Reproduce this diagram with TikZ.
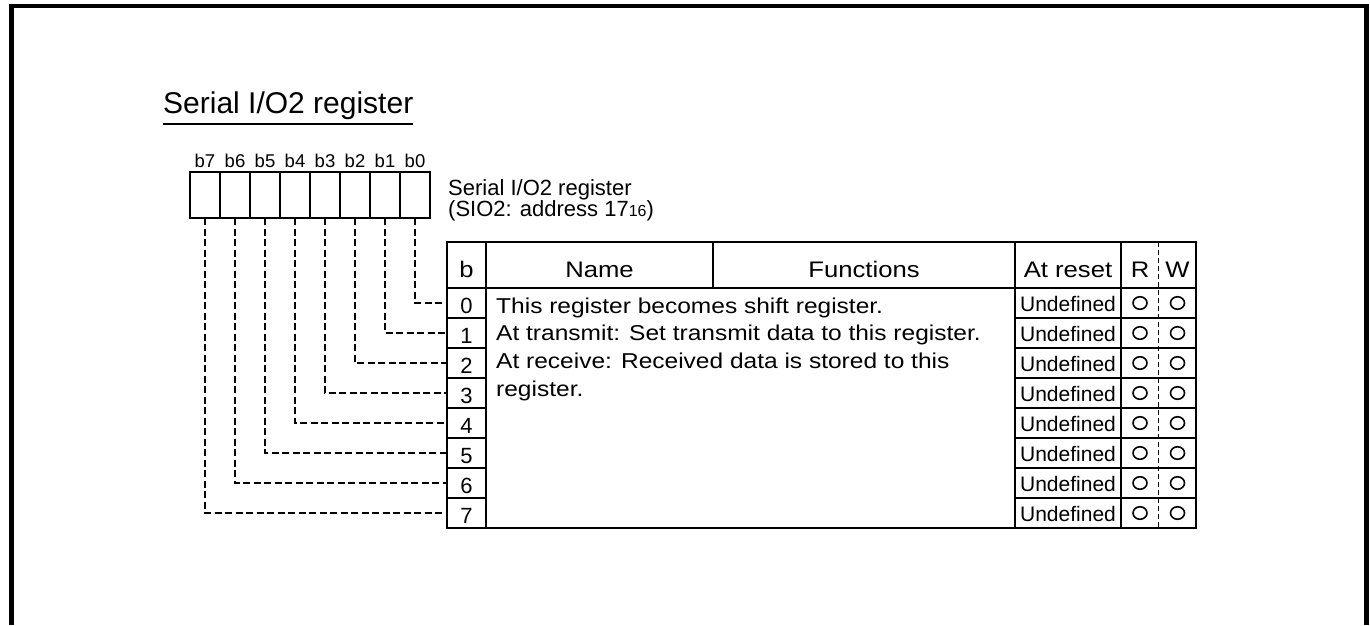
\documentclass[tikz,border=0pt]{standalone}
\usepackage{fontspec}
\setmainfont{Liberation Sans}
\newfontfamily\wideface{Liberation Sans}[FakeStretch=1.14]
\usetikzlibrary{positioning, shapes.geometric}
\tikzset{
  bitbox/.style={rectangle, draw, line width=2.4pt, minimum width=30pt, minimum height=46pt, inner sep=0pt, outer sep=0pt},
  bitlabel/.style={inner sep=0pt, text depth=0pt, font=\fontsize{18.5}{20}\selectfont},
  cell/.style={rectangle, draw, line width=2pt, inner sep=0pt, outer sep=0pt},
  headcell/.style={cell, minimum height=46pt, text height=24pt, text depth=0pt, font=\wideface\fontsize{22.5}{27}\selectfont},
  bitcell/.style={cell, minimum width=39pt, minimum height=30pt, text height=20pt, text depth=0pt, font=\fontsize{22}{26}\selectfont},
  resetcell/.style={cell, minimum width=106pt, minimum height=30pt, text height=17.4pt, text depth=0pt, font=\fontsize{21}{25}\selectfont},
  rwcell/.style={cell, minimum width=75pt, minimum height=30pt},
  rwmark/.style={ellipse, draw, line width=1.6pt, minimum width=14pt, minimum height=12.5pt, inner sep=0pt},
  functext/.style={anchor=base west, inner sep=0pt, font=\wideface\fontsize{21.5}{26}\selectfont},
  conn/.style={line width=2pt, dash pattern=on 7pt off 3.5pt},
}
\begin{document}
\begin{tikzpicture}[
  x=1pt, y=-1pt,
  every node/.style={inner sep=0pt},
  regfont/.style={font=\fontsize{22}{26}\selectfont},
]
  \useasboundingbox (0,0) rectangle (1370,625);
  % Frame (open at the bottom)
  \draw[line width=4.5pt] (11.3,625) -- (11.3,6) -- (1366.3,6) -- (1366.3,625);

  % Title
  \node[anchor=base west, font=\fontsize{30}{36}\selectfont] (title) at (163,113) {Serial I/O2 register};
  \draw[line width=1.5pt] ([yshift=-11pt]title.base west) -- ([yshift=-11pt]title.base east);

  % Bit boxes b7..b0
  \foreach \k in {0,...,7} {
    \node[bitbox] (bit\k) at ({415-30*\k},195) {};
    \node[bitlabel, above=4pt of bit\k] (bl\k) {b\k};
  }
  \node[regfont, anchor=base west] (regname) at (448,195) {Serial I/O2 register};
  \node[regfont, anchor=base west] (regaddr) at (448,216.5) {(SIO2: address 17{\fontsize{16}{18}\selectfont 16})};

  % Table header
  \node[headcell, minimum width=39pt] (hb) at (466.5,265) {b};
  \node[headcell, minimum width=227pt, right=0pt of hb] (hname) {Name};
  \node[headcell, minimum width=302pt, right=0pt of hname] (hfunc) {Functions};
  \node[headcell, minimum width=106pt, right=0pt of hfunc] (hreset) {At reset};
  \node[headcell, minimum width=75pt, right=0pt of hreset] (hrw) {};
  \node[headcell, draw=none] (hr) at (1140,265) {R};
  \node[headcell, draw=none] (hw) at (1177.5,265) {W};

  % Table body
  \node[cell, minimum width=529pt, minimum height=240pt] (func) at (750.5,408) {};
  \foreach \i in {0,...,7} {
    \node[bitcell] (r\i) at (466.5,{303+30*\i}) {\i};
    \node[resetcell] (u\i) at (1068,{303+30*\i}) {Undefined};
    \node[rwcell] (rw\i) at (1158.5,{303+30*\i}) {};
    \node[rwmark] (mr\i) at (1140,{303+30*\i}) {};
    \node[rwmark] (mw\i) at (1177.5,{303+30*\i}) {};
    \draw[conn] (bit\i.south) |- (r\i.west);
  }
  \draw[line width=1pt, dash pattern=on 5pt off 3pt] (hrw.north) -- (rw7.south);

  % Functions text
  \node[functext] (f0) at (496,313) {This register becomes shift register.};
  \node[functext] (f1) at (496,340.8) {At transmit: Set transmit data to this register.};
  \node[functext] (f2) at (496,368.6) {At receive: Received data is stored to this};
  \node[functext] (f3) at (496,396.4) {register.};
\end{tikzpicture}
\end{document}
